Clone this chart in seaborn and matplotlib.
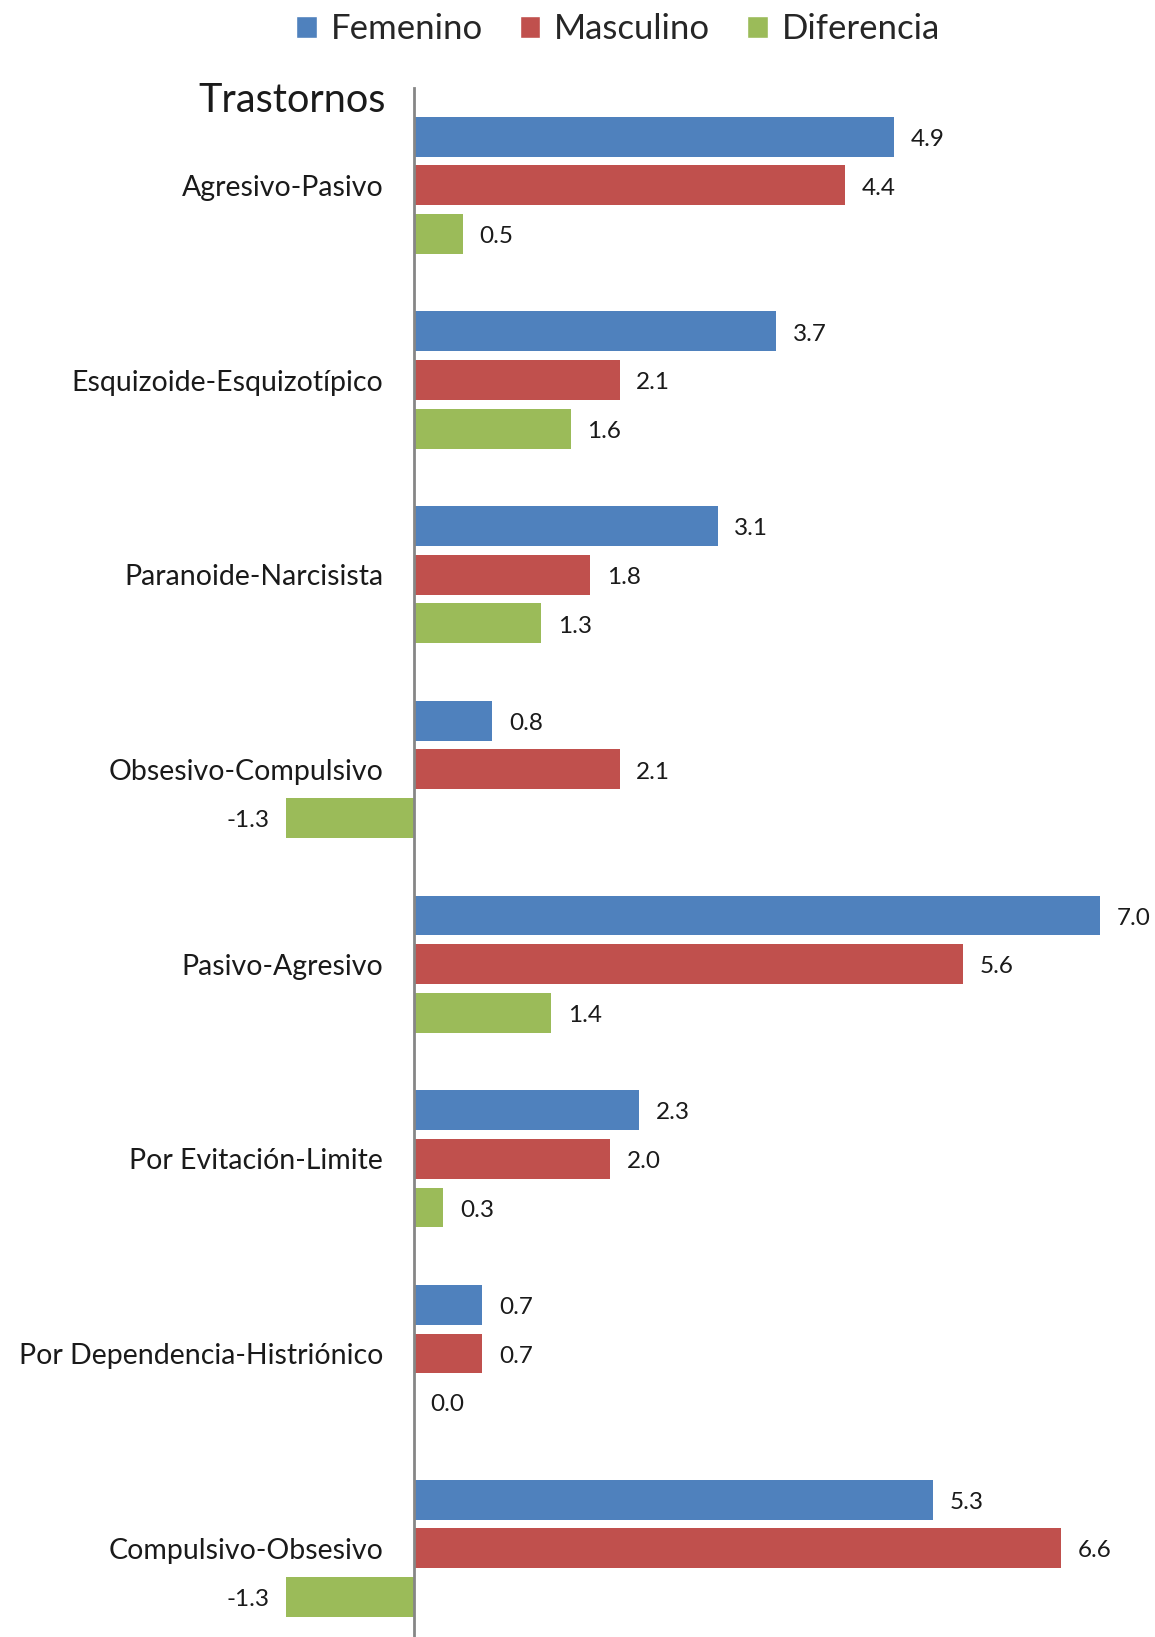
import pandas as pd
import matplotlib.pyplot as plt
import seaborn as sns
from matplotlib.patches import Patch

# ============================================================
# Trastornos - Femenino vs Masculino
# ============================================================

trastornos = [
    "Agresivo-Pasivo",
    "Esquizoide-Esquizotípico",
    "Paranoide-Narcisista",
    "Obsesivo-Compulsivo",
    "Pasivo-Agresivo",
    "Por Evitación-Limite",
    "Por Dependencia-Histriónico",
    "Compulsivo-Obsesivo",
]
femenino = [4.9, 3.7, 3.1, 0.8, 7.0, 2.3, 0.7, 5.3]
masculino = [4.4, 2.1, 1.8, 2.1, 5.6, 2.0, 0.7, 6.6]
diferencia = [0.5, 1.6, 1.3, -1.3, 1.4, 0.3, 0.0, -1.3]

series = ["Femenino", "Masculino", "Diferencia"]
colores = ["#4F81BD", "#C0504D", "#9BBB59"]

df = pd.DataFrame({
    "Trastorno": trastornos,
    "Femenino": femenino,
    "Masculino": masculino,
    "Diferencia": diferencia,
})
long_df = df.melt(id_vars="Trastorno", var_name="Serie", value_name="Valor")

sns.set_style("white")
plt.rcParams["font.family"] = ["Lato", "DejaVu Sans"]

fig = plt.figure(figsize=(11.55, 16.37), dpi=100)
ax = fig.add_axes([257 / 1155, 0, 882 / 1155, (1637 - 88) / 1637])

sns.barplot(
    data=long_df,
    y="Trastorno",
    x="Valor",
    hue="Serie",
    hue_order=series,
    palette=colores,
    saturation=1,
    orient="h",
    width=0.75,
    gap=0.18,
    errorbar=None,
    linewidth=0,
    legend=False,
    ax=ax,
)

# value labels, nudged a little down to sit on the bar centre
for cont in ax.containers:
    labels = ax.bar_label(cont, fmt="%.1f", padding=12, fontsize=17.5, color="#1a1a1a")
    for t in labels:
        x_off, _ = t.xyann
        t.xyann = (x_off, -2)

ax.set_xlim(-1.6, 7.4)
ax.set_ylim(7.456, -0.5)
ax.xaxis.set_visible(False)
ax.set_ylabel("")
for s in ["top", "right", "bottom"]:
    ax.spines[s].set_visible(False)
ax.spines["left"].set_position(("data", 0))
ax.spines["left"].set_color("#868686")
ax.spines["left"].set_linewidth(2)
ax.tick_params(axis="y", length=0, pad=22, labelsize=20.5, labelcolor="#1a1a1a")

fig.text(386 / 1155, 1 - 101 / 1637, "Trastornos", ha="right", va="center",
         fontsize=28.5, color="#1a1a1a")

handles = [Patch(facecolor=c, label=s) for s, c in zip(series, colores)]
fig.legend(handles=handles, loc="center", bbox_to_anchor=(618 / 1155, 1 - 29 / 1637),
           ncol=3, frameon=False, fontsize=25, handlelength=0.6, handleheight=0.6,
           handletextpad=0.4, columnspacing=1.05)

fig.savefig("out.png", dpi=100)
